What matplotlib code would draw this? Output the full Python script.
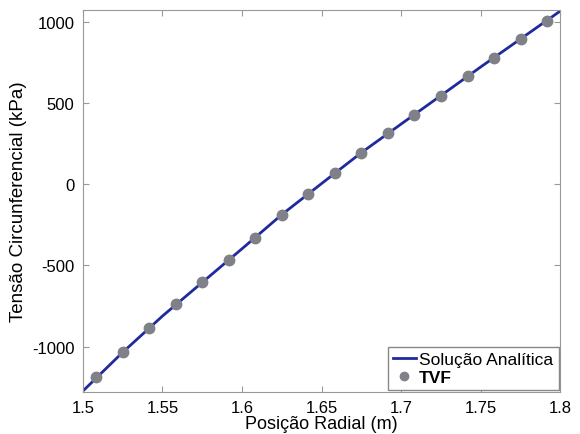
import matplotlib.pyplot as plt

# analytic solution
r_line = [1.5, 1.525, 1.55, 1.575, 1.6, 1.625, 1.65, 1.675, 1.7, 1.725, 1.75, 1.775, 1.8]
s_line = [-1272, -1034, -811, -604, -397, -187, 4, 194, 370, 545, 721, 893, 1065]

# TVF points
r_tvf = [1.5083, 1.5250, 1.5417, 1.5583, 1.5750, 1.5917, 1.6083, 1.6250, 1.6417,
         1.6583, 1.6750, 1.6917, 1.7083, 1.7250, 1.7417, 1.7583, 1.7750, 1.7917]
s_tvf = [-1188, -1034, -885, -737, -604, -465, -329, -187, -60,
         69, 194, 313, 428, 545, 664, 778, 893, 1004]

xticks = [1.5, 1.55, 1.6, 1.65, 1.7, 1.75, 1.8]
yticks = [-1000, -500, 0, 500, 1000]

plt.rcParams['font.family'] = ['Liberation Sans', 'DejaVu Sans']
plt.rcParams['font.size'] = 12
plt.rcParams['axes.unicode_minus'] = False

fig = plt.figure(figsize=(5.8, 4.35), dpi=100)
ax = fig.add_axes([0.143, 0.097, 0.823, 0.878])

ax.plot(r_line, s_line, color='#1f2a9c', lw=2, label='Solução Analítica', zorder=2)
ax.plot(r_tvf, s_tvf, 'o', color='#808088', ms=7.5, label='TVF', zorder=3)

ax.set_xlim(1.5, 1.8)
ax.set_ylim(-1277, 1072)
ax.set_xticks(xticks)
ax.set_xticklabels(['1.5', '1.55', '1.6', '1.65', '1.7', '1.75', '1.8'])
ax.set_yticks(yticks)

ax.tick_params(direction='in', top=True, right=True, length=4, color='#999999', pad=6)
for sp in ax.spines.values():
    sp.set_color('#999999')

ax.set_xlabel('Posição Radial (m)', labelpad=0, fontsize=13)
ax.set_ylabel('Tensão Circunferencial (kPa)', labelpad=4, fontsize=13.5)

leg = ax.legend(loc='lower right', bbox_to_anchor=(1.0, 0.0), borderaxespad=0.1,
                fancybox=False, framealpha=1, edgecolor='#888888',
                handlelength=1.3, handletextpad=0.2, labelspacing=0.15,
                borderpad=0.3, fontsize=12.5, markerscale=0.8)
leg.get_texts()[1].set_fontweight('bold')

fig.savefig('out.png', dpi=100)
